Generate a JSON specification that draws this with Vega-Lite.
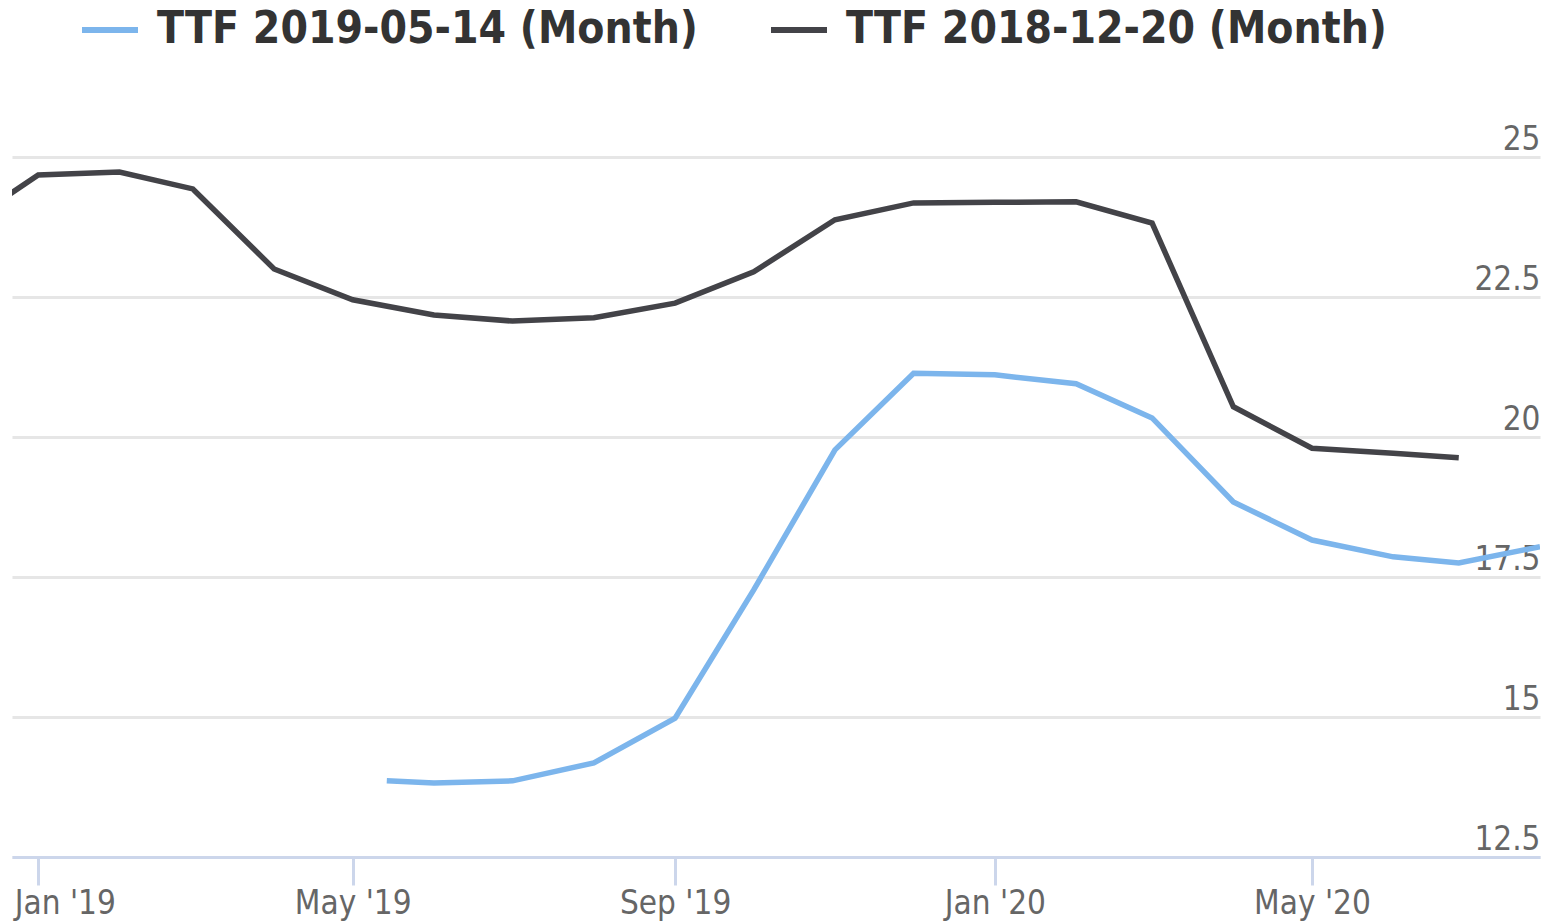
{
  "$schema": "https://vega.github.io/schema/vega-lite/v6.json",
  "width": 1528,
  "height": 700,
  "autosize": {"type": "none"},
  "padding": {"left": 12, "top": 157, "right": 12, "bottom": 66},
  "background": "#ffffff",
  "config": {
    "view": {"stroke": null},
    "font": "DejaVu Sans Condensed, Roboto, sans-serif"
  },
  "data": {
    "values": [
      {"series": "TTF 2018-12-20 (Month)", "date": "2018-12-20", "price": 24.3},
      {"series": "TTF 2018-12-20 (Month)", "date": "2019-01-01", "price": 24.68},
      {"series": "TTF 2018-12-20 (Month)", "date": "2019-02-01", "price": 24.73},
      {"series": "TTF 2018-12-20 (Month)", "date": "2019-03-01", "price": 24.43},
      {"series": "TTF 2018-12-20 (Month)", "date": "2019-04-01", "price": 23.0},
      {"series": "TTF 2018-12-20 (Month)", "date": "2019-05-01", "price": 22.45},
      {"series": "TTF 2018-12-20 (Month)", "date": "2019-06-01", "price": 22.18},
      {"series": "TTF 2018-12-20 (Month)", "date": "2019-07-01", "price": 22.07},
      {"series": "TTF 2018-12-20 (Month)", "date": "2019-08-01", "price": 22.13},
      {"series": "TTF 2018-12-20 (Month)", "date": "2019-09-01", "price": 22.39},
      {"series": "TTF 2018-12-20 (Month)", "date": "2019-10-01", "price": 22.95},
      {"series": "TTF 2018-12-20 (Month)", "date": "2019-11-01", "price": 23.88},
      {"series": "TTF 2018-12-20 (Month)", "date": "2019-12-01", "price": 24.18},
      {"series": "TTF 2018-12-20 (Month)", "date": "2020-01-01", "price": 24.19},
      {"series": "TTF 2018-12-20 (Month)", "date": "2020-02-01", "price": 24.2},
      {"series": "TTF 2018-12-20 (Month)", "date": "2020-03-01", "price": 23.82},
      {"series": "TTF 2018-12-20 (Month)", "date": "2020-04-01", "price": 20.54},
      {"series": "TTF 2018-12-20 (Month)", "date": "2020-05-01", "price": 19.8},
      {"series": "TTF 2018-12-20 (Month)", "date": "2020-06-01", "price": 19.71},
      {"series": "TTF 2018-12-20 (Month)", "date": "2020-06-26", "price": 19.63},
      {"series": "TTF 2019-05-14 (Month)", "date": "2019-05-14", "price": 13.86},
      {"series": "TTF 2019-05-14 (Month)", "date": "2019-06-01", "price": 13.82},
      {"series": "TTF 2019-05-14 (Month)", "date": "2019-07-01", "price": 13.86},
      {"series": "TTF 2019-05-14 (Month)", "date": "2019-08-01", "price": 14.18},
      {"series": "TTF 2019-05-14 (Month)", "date": "2019-09-01", "price": 14.98},
      {"series": "TTF 2019-05-14 (Month)", "date": "2019-10-01", "price": 17.27},
      {"series": "TTF 2019-05-14 (Month)", "date": "2019-11-01", "price": 19.77},
      {"series": "TTF 2019-05-14 (Month)", "date": "2019-12-01", "price": 21.14},
      {"series": "TTF 2019-05-14 (Month)", "date": "2020-01-01", "price": 21.11},
      {"series": "TTF 2019-05-14 (Month)", "date": "2020-02-01", "price": 20.95},
      {"series": "TTF 2019-05-14 (Month)", "date": "2020-03-01", "price": 20.34},
      {"series": "TTF 2019-05-14 (Month)", "date": "2020-04-01", "price": 18.84},
      {"series": "TTF 2019-05-14 (Month)", "date": "2020-05-01", "price": 18.16},
      {"series": "TTF 2019-05-14 (Month)", "date": "2020-06-01", "price": 17.86},
      {"series": "TTF 2019-05-14 (Month)", "date": "2020-06-26", "price": 17.75},
      {"series": "TTF 2019-05-14 (Month)", "date": "2020-07-27", "price": 18.04}
    ]
  },
  "mark": {"type": "line", "strokeWidth": 5.5, "clip": true},
  "encoding": {
    "x": {
      "field": "date",
      "type": "temporal",
      "scale": {
        "type": "utc",
        "domain": [
          {"year": 2018, "month": 12, "date": 22, "utc": true},
          {"year": 2020, "month": 7, "date": 27, "utc": true}
        ]
      },
      "axis": {
        "title": null,
        "values": [
          {"year": 2019, "month": 1, "date": 1, "utc": true},
          {"year": 2019, "month": 5, "date": 1, "utc": true},
          {"year": 2019, "month": 9, "date": 1, "utc": true},
          {"year": 2020, "month": 1, "date": 1, "utc": true},
          {"year": 2020, "month": 5, "date": 1, "utc": true}
        ],
        "labelExpr": "utcFormat(datum.value, \"%b '%y\")",
        "grid": false,
        "domainColor": "#ccd6eb",
        "domainWidth": 3,
        "tickColor": "#ccd6eb",
        "tickWidth": 3,
        "tickSize": 28,
        "labelFontSize": 33,
        "labelColor": "#666666",
        "labelPadding": 2,
        "labelFlush": 30,
        "labelFlushOffset": 24,
        "zindex": 1
      }
    },
    "y": {
      "field": "price",
      "type": "quantitative",
      "scale": {"domain": [12.5, 25], "nice": false, "zero": false},
      "axis": {
        "title": null,
        "orient": "right",
        "values": [12.5, 15, 17.5, 20, 22.5, 25],
        "labelExpr": "format(datum.value, '.1~f')",
        "ticks": false,
        "domain": false,
        "grid": true,
        "gridColor": "#e6e6e6",
        "gridWidth": 3,
        "labelAlign": "right",
        "labelBaseline": "bottom",
        "labelPadding": 0,
        "labelOffset": -1,
        "labelFontSize": 33,
        "labelColor": "#666666"
      }
    },
    "color": {
      "field": "series",
      "type": "nominal",
      "scale": {
        "domain": ["TTF 2019-05-14 (Month)", "TTF 2018-12-20 (Month)"],
        "range": ["#7cb5ec", "#434348"]
      },
      "legend": {
        "title": null,
        "orient": "none",
        "direction": "horizontal",
        "legendX": 67,
        "legendY": -158,
        "symbolType": "stroke",
        "symbolSize": 3136,
        "symbolStrokeWidth": 6,
        "labelFont": "DejaVu Sans Condensed",
        "labelFontSize": 44,
        "labelFontWeight": "bold",
        "labelColor": "#333333",
        "labelOffset": 16,
        "columnPadding": 61,
        "labelLimit": 1000,
        "padding": 0
      }
    }
  }
}
